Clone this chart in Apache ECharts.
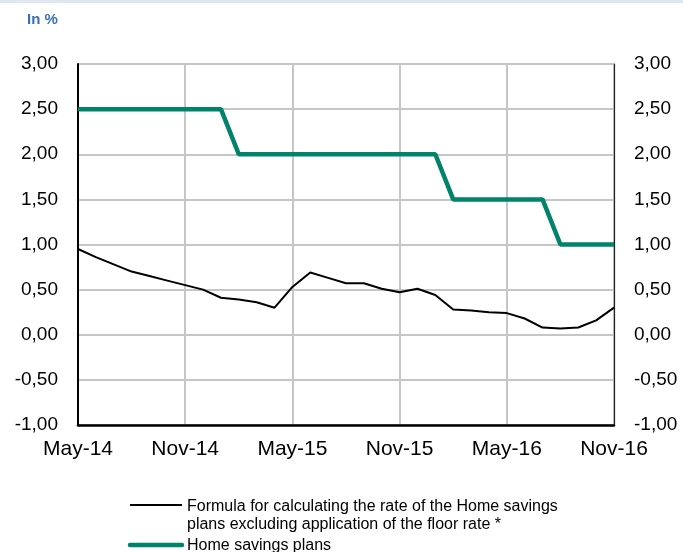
<!DOCTYPE html>
<html>
<head>
<meta charset="utf-8">
<script src="https://cdn.jsdelivr.net/npm/echarts@6/dist/echarts.min.js"></script>
<style>
  html, body { margin: 0; padding: 0; background: #fff; }
  #chart { width: 683px; height: 552px; }
</style>
</head>
<body>
<div id="chart"></div>
<script>
// months May-14 .. Nov-16
const months = [
  'May-14', 'Jun-14', 'Jul-14', 'Aug-14', 'Sep-14', 'Oct-14',
  'Nov-14', 'Dec-14', 'Jan-15', 'Feb-15', 'Mar-15', 'Apr-15',
  'May-15', 'Jun-15', 'Jul-15', 'Aug-15', 'Sep-15', 'Oct-15',
  'Nov-15', 'Dec-15', 'Jan-16', 'Feb-16', 'Mar-16', 'Apr-16',
  'May-16', 'Jun-16', 'Jul-16', 'Aug-16', 'Sep-16', 'Oct-16', 'Nov-16'
]
// formule de calcul hors taux plancher
const formulaRate = [
  0.95, 0.86, 0.78, 0.70, 0.65, 0.60, 0.55, 0.50, 0.41, 0.39, 0.36, 0.30,
  0.53, 0.69, 0.63, 0.57, 0.57, 0.51, 0.47, 0.51, 0.44, 0.28, 0.27, 0.25,
  0.24, 0.18, 0.08, 0.07, 0.08, 0.16, 0.30
]
// taux PEL
const pelRate = [
  2.5, 2.5, 2.5, 2.5, 2.5, 2.5, 2.5, 2.5, 2.5,
  2.0, 2.0, 2.0, 2.0, 2.0, 2.0, 2.0, 2.0, 2.0, 2.0, 2.0, 2.0,
  1.5, 1.5, 1.5, 1.5, 1.5, 1.5,
  1.0, 1.0, 1.0, 1.0
]
const seriesNames = [
  'Formula for calculating the rate of the Home savings\nplans excluding application of the floor rate *',
  'Home savings plans'
]
const seriesColors = ['#000000', '#00826b']

const fmt = (v) => v.toFixed(2).replace('.', ',')
const FONT = '"Liberation Sans", Arial, sans-serif'

const yAxisBase = (pos) => ({
  type: 'value',
  position: pos,
  min: -1,
  max: 3,
  interval: 0.5,
  axisLine: { show: true, lineStyle: { color: pos === 'left' ? '#000' : '#222', width: pos === 'left' ? 2 : 1.2 } },
  axisTick: { show: false },
  axisLabel: { formatter: fmt, fontSize: 19, color: '#000', fontFamily: FONT, margin: 20 },
  splitLine: { show: pos === 'left', lineStyle: { color: '#c6c6c6', width: 2 } }
})

const chart = echarts.init(document.getElementById('chart'))
const option = {
  animation: false,
  grid: {
    left: 78, right: 69, top: 64, bottom: 127,
    show: true, borderColor: '#333', borderWidth: 1
  },
  xAxis: {
    type: 'category',
    data: months,
    boundaryGap: false,
    axisLine: { onZero: false, lineStyle: { color: '#000', width: 2.5 } },
    axisTick: { show: false },
    axisLabel: { interval: 5, fontSize: 21, color: '#000', fontFamily: FONT, margin: 14 },
    splitLine: { show: true, interval: 5, lineStyle: { color: '#c6c6c6', width: 2 } }
  },
  yAxis: [yAxisBase('left'), yAxisBase('right')],
  series: [
    {
      name: seriesNames[0],
      type: 'line',
      data: formulaRate,
      symbol: 'none',
      lineStyle: { color: seriesColors[0], width: 2 },
      z: 3
    },
    {
      name: seriesNames[1],
      type: 'line',
      data: pelRate,
      symbol: 'none',
      lineStyle: { color: seriesColors[1], width: 4.5 },
      z: 4
    }
  ],
  graphic: [
    { type: 'rect', shape: { x: 0, y: 0, width: 683, height: 3 }, style: { fill: '#dfe7f1' } },
    { type: 'text', x: 27, y: 12, style: { text: 'In %', font: 'bold 15px ' + FONT, fill: '#3b6fb6' } },
    // legend
    { type: 'line', shape: { x1: 130, y1: 505, x2: 182, y2: 505 }, style: { stroke: seriesColors[0], lineWidth: 2 } },
    { type: 'text', x: 187, y: 498, style: { text: seriesNames[0], font: '16px ' + FONT, fill: '#000', lineHeight: 18 } },
    { type: 'line', shape: { x1: 130, y1: 545, x2: 182, y2: 545 }, style: { stroke: seriesColors[1], lineWidth: 4.5, lineCap: 'round' } },
    { type: 'text', x: 187, y: 538, style: { text: seriesNames[1], font: '16px ' + FONT, fill: '#000' } }
  ]
}
chart.setOption(option)
</script>
</body>
</html>
